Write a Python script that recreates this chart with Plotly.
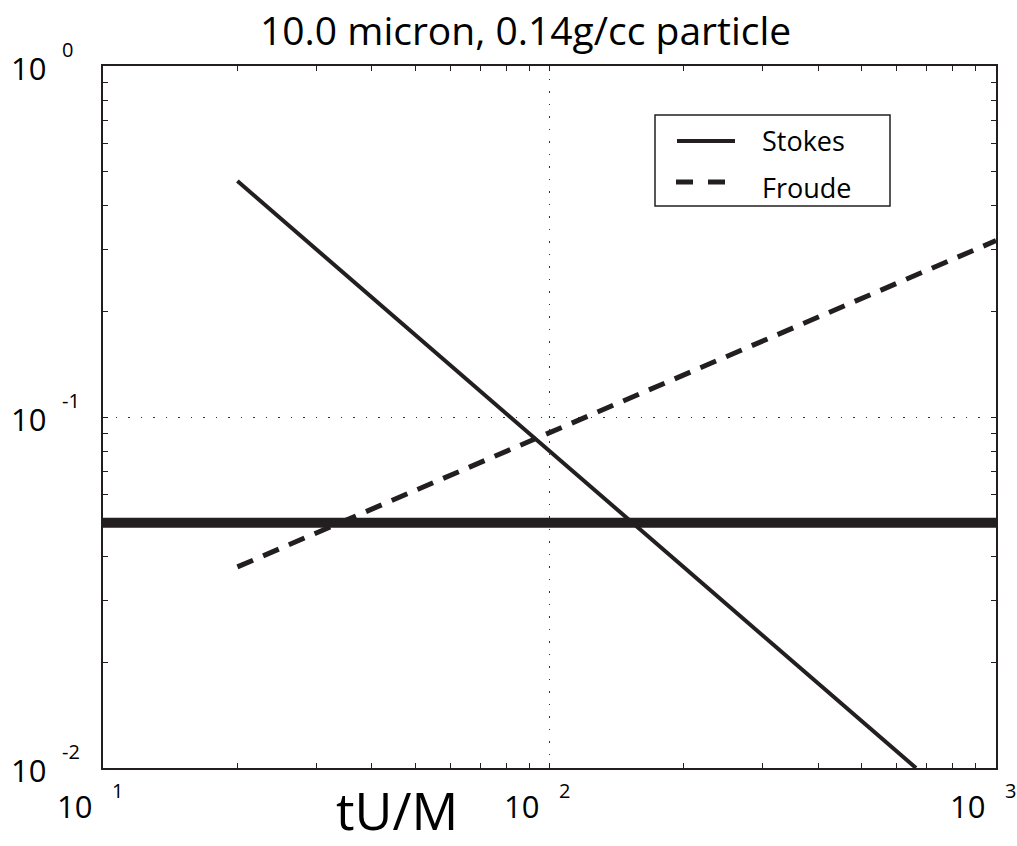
import math
import plotly.graph_objects as go

# Stokes number and Froude number curves vs. dimensionless time tU/M
stokes_x = [20, 662]
stokes_y = [0.47, 0.01]

froude_x = [20, 1000]
froude_y = [0.0374, 0.318]

# Reference level
level_x = [10, 1000]
level_y = [0.05, 0.05]

# Axis decades and exponent labels
x_major = [10, 100, 1000]
x_exps = ["1", "2", "3"]
y_major = [1, 0.1, 0.01]
y_exps = ["0", "-1", "-2"]

x_minor = [m * d for d in (10, 100) for m in range(2, 10)]
y_minor = [m * d for d in (0.01, 0.1) for m in range(2, 10)]

legend_names = ["Stokes", "Froude"]

INK = "#231f20"
FONT = "Open Sans"

# plot-area geometry in pixels
W, H = 1017, 846
L, R, T, B = 103, 21, 66, 78
PW, PH = W - L - R, H - T - B


def px(xpix):
    return (xpix - L) / PW


def py(ypix):
    return (H - B - ypix) / PH


fig = go.Figure()

fig.add_trace(go.Scatter(
    x=stokes_x, y=stokes_y, mode="lines", name=legend_names[0], showlegend=False,
    line=dict(color=INK, width=4),
))
fig.add_trace(go.Scatter(
    x=froude_x, y=froude_y, mode="lines", name=legend_names[1], showlegend=False,
    line=dict(color=INK, width=5, dash="17px,11px"),
))
fig.add_trace(go.Scatter(
    x=level_x, y=level_y, mode="lines", showlegend=False,
    line=dict(color=INK, width=10),
))

axis_common = dict(
    type="log",
    showline=True, linecolor=INK, linewidth=2, mirror="allticks",
    ticks="inside", ticklen=5, tickcolor=INK, tickwidth=1,
    showticklabels=False,
    showgrid=True, gridcolor="#333333", griddash="1.5px,11px", gridwidth=1,
    zeroline=False,
)

fig.update_xaxes(
    range=[1, 3], tickmode="array", tickvals=x_major,
    minor=dict(tickvals=x_minor, ticks="inside", ticklen=5, tickcolor=INK, showgrid=False),
    **axis_common,
)
fig.update_yaxes(
    range=[-2, 0], tickmode="array", tickvals=y_major,
    minor=dict(tickvals=y_minor, ticks="inside", ticklen=5, tickcolor=INK, showgrid=False),
    **axis_common,
)

annotations = []
# x tick labels: "10" left of the tick, exponent raised to the right
for v, e in zip(x_major, x_exps):
    lv = math.log10(v)
    annotations.append(dict(
        x=lv, xref="x", y=0, yref="paper", text="10", showarrow=False,
        xanchor="right", yanchor="middle", xshift=-9, yshift=-38,
        font=dict(family=FONT, size=31, color="#000000"),
    ))
    annotations.append(dict(
        x=lv, xref="x", y=0, yref="paper", text=e, showarrow=False,
        xanchor="left", yanchor="middle", xshift=7, yshift=-22,
        font=dict(family=FONT, size=20, color="#000000"),
    ))
# y tick labels
for v, e in zip(y_major, y_exps):
    lv = math.log10(v)
    annotations.append(dict(
        x=0, xref="paper", y=lv, yref="y", text="10", showarrow=False,
        xanchor="right", yanchor="middle", xshift=-55, yshift=-2,
        font=dict(family=FONT, size=31, color="#000000"),
    ))
    annotations.append(dict(
        x=0, xref="paper", y=lv, yref="y", text=e, showarrow=False,
        xanchor="left", yanchor="middle", xshift=-43, yshift=17,
        font=dict(family=FONT, size=20, color="#000000"),
    ))

# axis title
annotations.append(dict(
    x=px(397), xref="paper", y=0, yref="paper", text="tU/M",
    showarrow=False, xanchor="center", yanchor="middle", yshift=-41,
    font=dict(family=FONT, size=52, color="#000000"),
))
# plot title
annotations.append(dict(
    x=px(525), xref="paper", y=1, yref="paper",
    text="10.0 micron, 0.14g/cc particle",
    showarrow=False, xanchor="center", yanchor="middle", yshift=37,
    font=dict(family=FONT, size=39, color="#000000"),
))

# legend box with line samples
shapes = [
    dict(type="rect", xref="paper", yref="paper",
         x0=px(655), x1=px(890), y0=py(206), y1=py(115),
         line=dict(color=INK, width=1.5), fillcolor="white", layer="above"),
    dict(type="line", xref="paper", yref="paper",
         x0=px(677), x1=px(735), y0=py(141), y1=py(141),
         line=dict(color=INK, width=4), layer="above"),
    dict(type="line", xref="paper", yref="paper",
         x0=px(676), x1=px(726), y0=py(182), y1=py(182),
         line=dict(color=INK, width=5, dash="17px,15px"), layer="above"),
]
for name, ypix in zip(legend_names, [141, 187]):
    annotations.append(dict(
        x=px(760), xref="paper", y=py(ypix), yref="paper", text=name,
        showarrow=False, xanchor="left", yanchor="middle",
        font=dict(family=FONT, size=27, color="#000000"),
    ))

fig.update_layout(
    width=W, height=H,
    margin=dict(l=L, r=R, t=T, b=B),
    paper_bgcolor="white", plot_bgcolor="white",
    annotations=annotations,
    shapes=shapes,
    showlegend=False,
)

fig.write_html("out.html")
